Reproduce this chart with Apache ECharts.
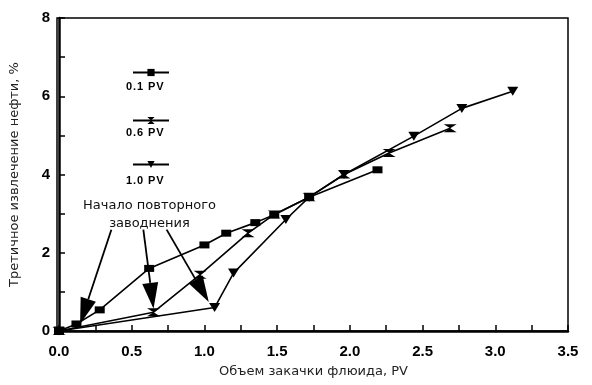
<!DOCTYPE html>
<html><head><meta charset="utf-8">
<script src="https://cdn.jsdelivr.net/npm/echarts@6/dist/echarts.min.js"></script>
<style>html,body{margin:0;padding:0;background:#fff}#c{width:592px;height:385px}</style>
</head><body><div id="c"></div>
<script>
// Data
const seriesNames = ['0.1 PV', '0.6 PV', '1.0 PV'];
const x01 = [0, 0.12, 0.28, 0.62, 1.0, 1.15, 1.35, 1.48, 1.72, 2.19];
const y01 = [0, 0.18, 0.54, 1.6, 2.2, 2.5, 2.77, 2.97, 3.42, 4.12];
const x06 = [0, 0.65, 0.97, 1.3, 1.48, 1.72, 1.96, 2.27, 2.69];
const y06 = [0, 0.48, 1.44, 2.5, 2.98, 3.42, 4.0, 4.55, 5.18];
const x10 = [0, 1.07, 1.2, 1.56, 1.72, 1.96, 2.44, 2.77, 3.12];
const y10 = [0, 0.6, 1.48, 2.85, 3.42, 4.0, 4.98, 5.69, 6.13];
const xTicks = ['0.0','0.5','1.0','1.5','2.0','2.5','3.0','3.5'];
const annotationText = 'Начало повторного\nзаводнения';
// arrows: [startX, startY, tipX, tipY] in data units
const arrows = [[0.36, 2.59, 0.145, 0.18], [0.58, 2.59, 0.65, 0.57], [0.74, 2.59, 1.03, 0.74]];

const pairs = (xs, ys) => xs.map((x, i) => [x, ys[i]]);
const hourglass = 'path://M0,0 L12,0 L6,4 L12,8 L0,8 L6,4 Z';
const downTri = 'path://M0,0 L10,0 L5,8 Z';
const symbols = ['rect', hourglass, downTri];
const sizes = [[10, 7], [13, 8], [11, 9]];
const datas = [pairs(x01, y01), pairs(x06, y06), pairs(x10, y10)];

const chart = echarts.init(document.getElementById('c'));
const series = seriesNames.map((n, i) => ({
  name: n, type: 'line', data: datas[i], symbol: symbols[i], symbolSize: sizes[i],
  showAllSymbol: true,
  lineStyle: {color: '#000', width: 1.6}, itemStyle: {color: '#000'}, z: 3
}));
const HEAD_LEN = 26, HEAD_HALF = 8;
series.push({
  type: 'custom', data: arrows, encode: {x: [0, 2], y: [1, 3]}, silent: true, z: 4,
  renderItem: (params, api) => {
    const p1 = api.coord([api.value(0), api.value(1)]);
    const p2 = api.coord([api.value(2), api.value(3)]);
    const dx = p2[0] - p1[0], dy = p2[1] - p1[1];
    const L = Math.hypot(dx, dy), ux = dx / L, uy = dy / L;
    const bx = p2[0] - ux * HEAD_LEN, by = p2[1] - uy * HEAD_LEN;
    const px = -uy * HEAD_HALF, py = ux * HEAD_HALF;
    return {type: 'group', children: [
      {type: 'line', shape: {x1: p1[0], y1: p1[1], x2: bx, y2: by}, style: {stroke: '#000', lineWidth: 1.8}},
      {type: 'polygon', shape: {points: [[p2[0], p2[1]], [bx + px, by + py], [bx - px, by - py]]}, style: {fill: '#000'}}
    ]};
  }
});
const legendTops = [63, 111, 155];
const legendTextTops = [81, 127, 175];
chart.setOption({
  animation: false,
  grid: {left: 57, right: 24, top: 18, bottom: 54},
  xAxis: {
    type: 'value', min: 0, max: 3.5, interval: 0.5,
    name: 'Объем закачки флюида, PV', nameLocation: 'middle', nameGap: 34,
    nameTextStyle: {fontFamily: 'DejaVu Sans', fontSize: 13, color: '#222'},
    axisLine: {lineStyle: {color: '#000', width: 2.5}},
    axisTick: {inside: true, length: 6, lineStyle: {color: '#000', width: 1.5}},
    minorTick: {show: true, splitNumber: 2, length: 6, lineStyle: {color: '#000', width: 1.5}},
    axisLabel: {formatter: v => xTicks[Math.round(v * 2)], fontFamily: 'Liberation Sans', fontWeight: 'bold', fontSize: 15, color: '#000', margin: 13},
    splitLine: {show: false}
  },
  yAxis: {
    type: 'value', min: 0, max: 8, interval: 2,
    name: 'Третичное извлечение нефти, %', nameLocation: 'middle', nameGap: 38,
    nameTextStyle: {fontFamily: 'DejaVu Sans', fontSize: 13, color: '#222'},
    axisLine: {lineStyle: {color: '#000', width: 2.5}},
    axisTick: {inside: true, length: 6, lineStyle: {color: '#000', width: 1.5}},
    minorTick: {show: true, splitNumber: 2, length: 6, lineStyle: {color: '#000', width: 1.5}},
    axisLabel: {fontFamily: 'Liberation Sans', fontWeight: 'bold', fontSize: 15, color: '#000', margin: 9},
    splitLine: {show: false}
  },
  legend: seriesNames.map((n, i) => ({
    data: [n], left: 127, top: legendTops[i], itemWidth: 36, itemHeight: 9,
    formatter: () => '', selectedMode: false, textStyle: {fontSize: 1}
  })),
  graphic: [
    {type: 'rect', shape: {x: 57, y: 18, width: 511, height: 313}, style: {fill: 'none', stroke: '#000', lineWidth: 1.5}, silent: true, z: 0},
    ...seriesNames.map((n, i) => ({
      type: 'text', left: 126, top: legendTextTops[i],
      style: {text: n.split('').join('\u200a'), font: 'bold 11px "Liberation Sans"', fill: '#000'}
    })),
    {type: 'text', left: 82, top: 197, style: {text: annotationText, font: '13px "DejaVu Sans"', fill: '#111', textAlign: 'center', width: 135, lineHeight: 18, align: 'center'}}
  ],
  series: series
});
</script></body></html>
